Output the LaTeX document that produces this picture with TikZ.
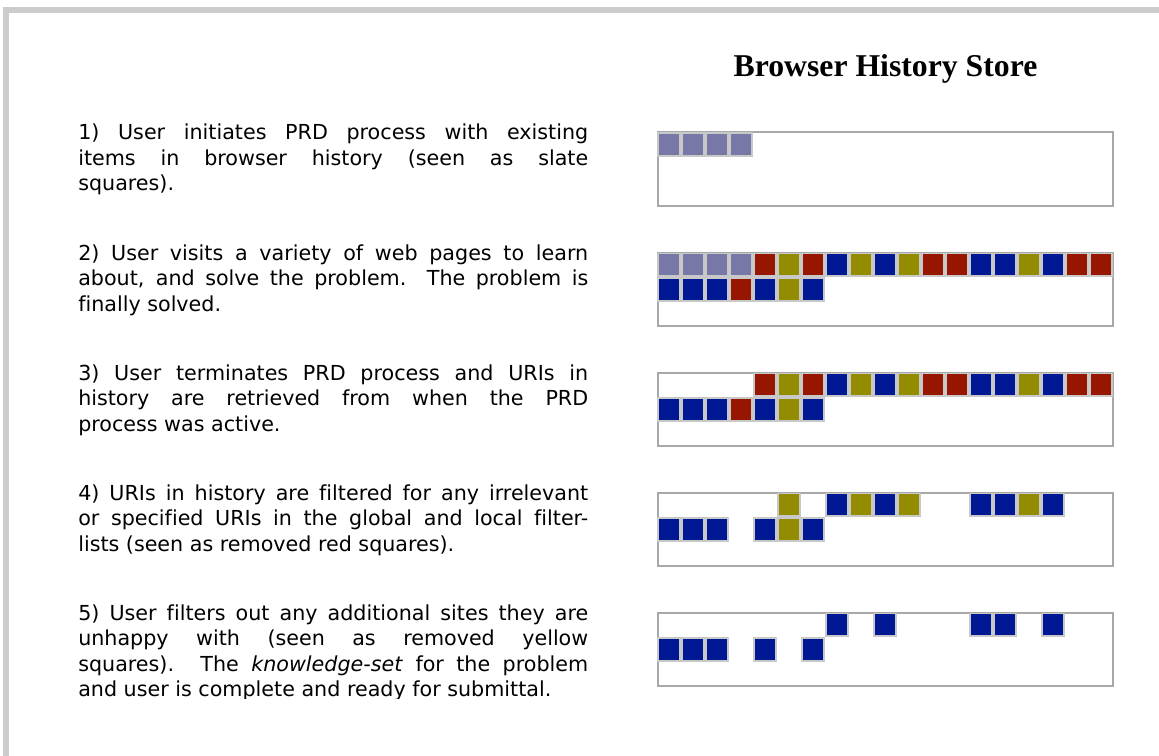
\documentclass[tikz,border=0pt]{standalone}
\usepackage{fontspec}
\setmainfont[Ligatures={NoCommon}]{DejaVu Sans}
\newfontfamily\titlefont{Liberation Serif}
\definecolor{cS}{HTML}{7878A8}
\definecolor{cR}{HTML}{961600}
\definecolor{cY}{HTML}{948C00}
\definecolor{cB}{HTML}{001894}
\definecolor{sqline}{HTML}{C8C8C8}
\definecolor{boxline}{HTML}{A8A8A8}
\definecolor{frameline}{HTML}{CCCCCC}
\tolerance=10000
\hbadness=10000
\hyphenpenalty=10000
\def\sqnone{N}
% #1 = top y of the row, #2 = list of cells (S,R,Y,B or N for empty)
\newcommand\sqrow[2]{%
  \foreach \c [count=\i from 0] in {#2}{%
    \edef\sqtmp{\c}%
    \ifx\sqtmp\sqnone\else
      \path[sqcell, fill=c\c] ({657+24*\i+0.8},{#1+0.8}) rectangle ({657+24*\i+23.2},{#1+23.7});
    \fi}}
\begin{document}
\begin{tikzpicture}[x=0.75pt, y=-0.75pt,
  sqcell/.style={draw=sqline, line width=1.2pt},
  store/.style={draw=boxline, line width=1.5pt},
  para/.style={anchor=base west, inner sep=0pt, text width=382.5pt, align=justify,
    font=\fontsize{15.5pt}{19.1pt}\selectfont},
  heading/.style={anchor=base, inner sep=0pt,
    font=\titlefont\bfseries\fontsize{23.8pt}{28pt}\selectfont}]
\useasboundingbox (0,0) rectangle (1159,756);
% frame
\fill[frameline] (3,7) rectangle (1159,13);
\fill[frameline] (3,7) rectangle (9,756);
% title
\node[heading] (title) at (885.5,77) {Browser History Store};
% text
\begin{scope}
\clip (0,0) rectangle (640,698.5);
\node[para] (p1) at (78,140) {1) User initiates PRD process with existing\linebreak
items in browser history (seen as slate\linebreak squares).};
\node[para] (p2) at (78,260.5) {2) User visits a variety of web pages to learn\linebreak
about, and solve the problem.  The problem is\linebreak finally solved.};
\node[para] (p3) at (78,380.5) {3) User terminates PRD process and URIs in\linebreak
history are retrieved from when the PRD\linebreak process was active.};
\node[para] (p4) at (78,500.5) {4) URIs in history are filtered for any irrelevant\linebreak
or specified URIs in the global and local filter-\linebreak lists (seen as removed red squares).};
\node[para] (p5) at (78,620.5) {5) User filters out any additional sites they are\linebreak
unhappy with (seen as removed yellow\linebreak
squares).  The \textit{knowledge-set} for the problem\linebreak
and user is complete and ready for submittal.};
\end{scope}
% boxes
\foreach \k in {0,...,4}{
  \draw[store] (658,{132.5+120*\k}) rectangle (1113,{206+120*\k});
}
% box 1
\sqrow{132.5}{S,S,S,S}
% box 2
\sqrow{252.5}{S,S,S,S,R,Y,R,B,Y,B,Y,R,R,B,B,Y,B,R,R}
\sqrow{277}{B,B,B,R,B,Y,B}
% box 3
\sqrow{372.5}{N,N,N,N,R,Y,R,B,Y,B,Y,R,R,B,B,Y,B,R,R}
\sqrow{397}{B,B,B,R,B,Y,B}
% box 4
\sqrow{492.5}{N,N,N,N,N,Y,N,B,Y,B,Y,N,N,B,B,Y,B}
\sqrow{517}{B,B,B,N,B,Y,B}
% box 5
\sqrow{612.5}{N,N,N,N,N,N,N,B,N,B,N,N,N,B,B,N,B}
\sqrow{637}{B,B,B,N,B,N,B}
\end{tikzpicture}
\end{document}
